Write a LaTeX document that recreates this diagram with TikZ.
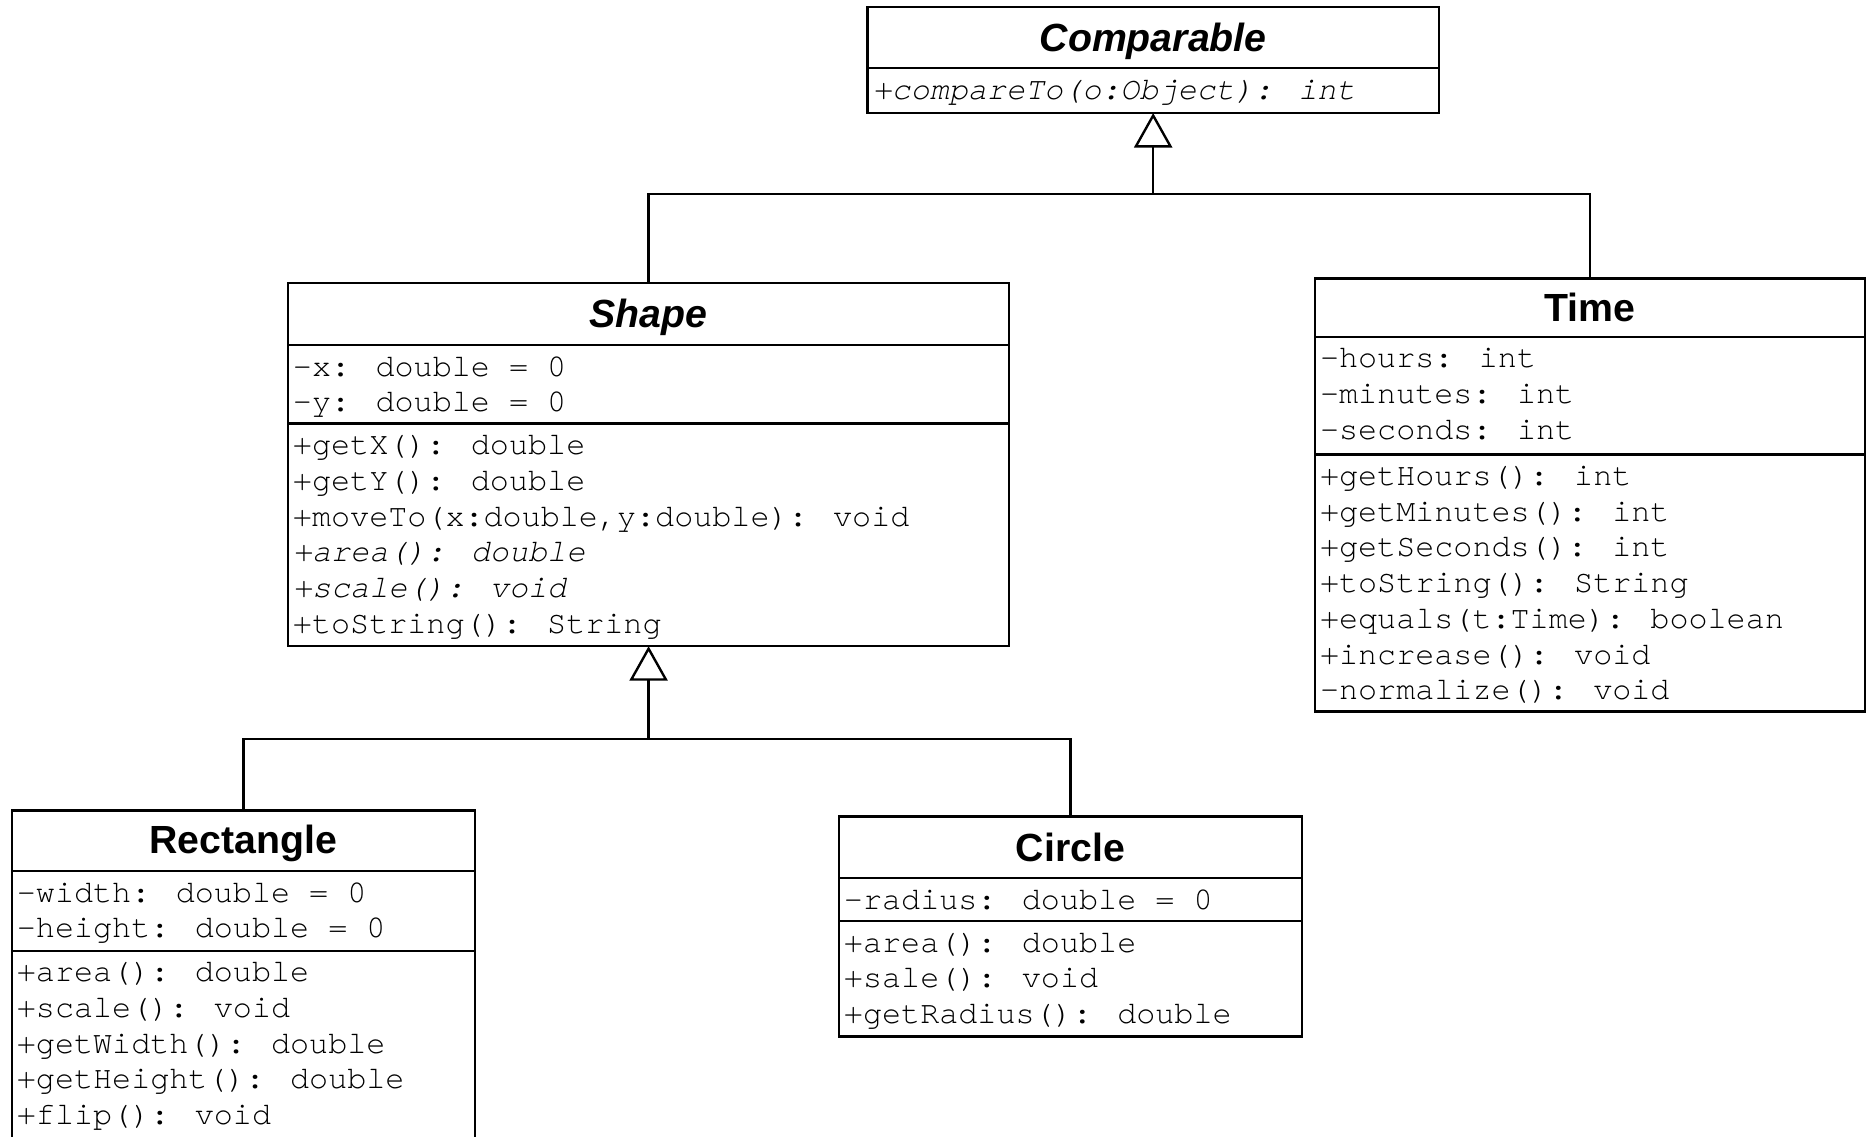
\documentclass[tikz,border=0pt]{standalone}
\usepackage{fontspec}
\usetikzlibrary{arrows.meta}
\newfontfamily\umlsans{Liberation Sans}
\newfontfamily\umlmono{TeX Gyre Cursor}[Ligatures=NoCommon, Kerning=Off]

\tikzset{
  classbox/.style={draw, line width=2pt, inner sep=0pt, outer sep=0pt, fill=white},
  divider/.style={line width=2pt},
  member/.style={anchor=base west, inner sep=0pt, font=\umlmono\fontsize{26.7}{30}\selectfont},
  abstractmember/.style={member, font=\umlmono\itshape\fontsize{26.7}{30}\selectfont},
  classname/.style={anchor=base, inner sep=0pt, font=\umlsans\bfseries\fontsize{33}{36}\selectfont},
  abstractname/.style={classname, font=\umlsans\bfseries\itshape\fontsize{33}{36}\selectfont},
  link/.style={line width=2pt},
  generalization/.style={link, -{Triangle[open, length=29pt, width=32pt, line width=2pt]}},
}

\begin{document}
\begin{tikzpicture}[x=1pt, y=-1pt]
\useasboundingbox (0,0) rectangle (1568,955);
\clip (0,0) rectangle (1568,955);

% ---- Comparable (interface) ----
\node[classbox, minimum width=480pt, minimum height=89pt] (cmp) at (969,50.5) {};
\draw[divider] (729,57) -- (1209,57);
\node[abstractname] (cmp-t) at (969,43) {Comparable};
\node[abstractmember] (cmp-m1) at (733,84) {+compareTo(o:Object): int};

% ---- Shape (abstract) ----
\node[classbox, minimum width=606pt, minimum height=305pt] (shp) at (545,390.5) {};
\draw[divider] (242,290) -- (848,290);
\draw[divider] (242,356) -- (848,356);
\node[abstractname] (shp-t) at (545,275.5) {Shape};
\node[member] (shp-a1) at (246,316) {-x: double = 0};
\node[member] (shp-a2) at (246,346) {-y: double = 0};
\node[member] (shp-m1) at (246,382) {+getX(): double};
\node[member] (shp-m2) at (246,412) {+getY(): double};
\node[member] (shp-m3) at (246,442) {+moveTo(x:double,y:double): void};
\node[abstractmember] (shp-m4) at (246,472) {+area(): double};
\node[abstractmember] (shp-m5) at (246,502) {+scale(): void};
\node[member] (shp-m6) at (246,532) {+toString(): String};

% ---- Time ----
\node[classbox, minimum width=462pt, minimum height=364pt] (tim) at (1336,416) {};
\draw[divider] (1105,283) -- (1567,283);
\draw[divider] (1105,382) -- (1567,382);
\node[classname] (tim-t) at (1336,270) {Time};
\node[member] (tim-a1) at (1109,309) {-hours: int};
\node[member] (tim-a2) at (1109,339) {-minutes: int};
\node[member] (tim-a3) at (1109,369) {-seconds: int};
\node[member] (tim-m1) at (1109,408) {+getHours(): int};
\node[member] (tim-m2) at (1109,438) {+getMinutes(): int};
\node[member] (tim-m3) at (1109,468) {+getSeconds(): int};
\node[member] (tim-m4) at (1109,498) {+toString(): String};
\node[member] (tim-m5) at (1109,528) {+equals(t:Time): boolean};
\node[member] (tim-m6) at (1109,558) {+increase(): void};
\node[member] (tim-m7) at (1109,588) {-normalize(): void};

% ---- Rectangle ----
\node[classbox, minimum width=389pt, minimum height=279pt] (rct) at (204.5,820.5) {};
\draw[divider] (10,732) -- (399,732);
\draw[divider] (10,799) -- (399,799);
\node[classname] (rct-t) at (204.5,717.5) {Rectangle};
\node[member] (rct-a1) at (14,758) {-width: double = 0};
\node[member] (rct-a2) at (14,788) {-height: double = 0};
\node[member] (rct-m1) at (14,825) {+area(): double};
\node[member] (rct-m2) at (14,855) {+scale(): void};
\node[member] (rct-m3) at (14,885) {+getWidth(): double};
\node[member] (rct-m4) at (14,915) {+getHeight(): double};
\node[member] (rct-m5) at (14,945) {+flip(): void};

% ---- Circle ----
\node[classbox, minimum width=389pt, minimum height=185pt] (cir) at (899.5,778.5) {};
\draw[divider] (705,738) -- (1094,738);
\draw[divider] (705,774) -- (1094,774);
\node[classname] (cir-t) at (899.5,723.5) {Circle};
\node[member] (cir-a1) at (709,764) {-radius: double = 0};
\node[member] (cir-m1) at (709,800) {+area(): double};
\node[member] (cir-m2) at (709,830) {+sale(): void};
\node[member] (cir-m3) at (709,860) {+getRadius(): double};

% ---- generalizations ----
\coordinate (jc) at (969,163);
\coordinate (js) at (545,621);
\draw[link] (tim.north) |- (jc);
\draw[generalization] (shp.north) |- (jc) -- (cmp.south);
\draw[link] (cir.north) |- (js);
\draw[generalization] (rct.north) |- (js) -- (shp.south);
\end{tikzpicture}
\end{document}
